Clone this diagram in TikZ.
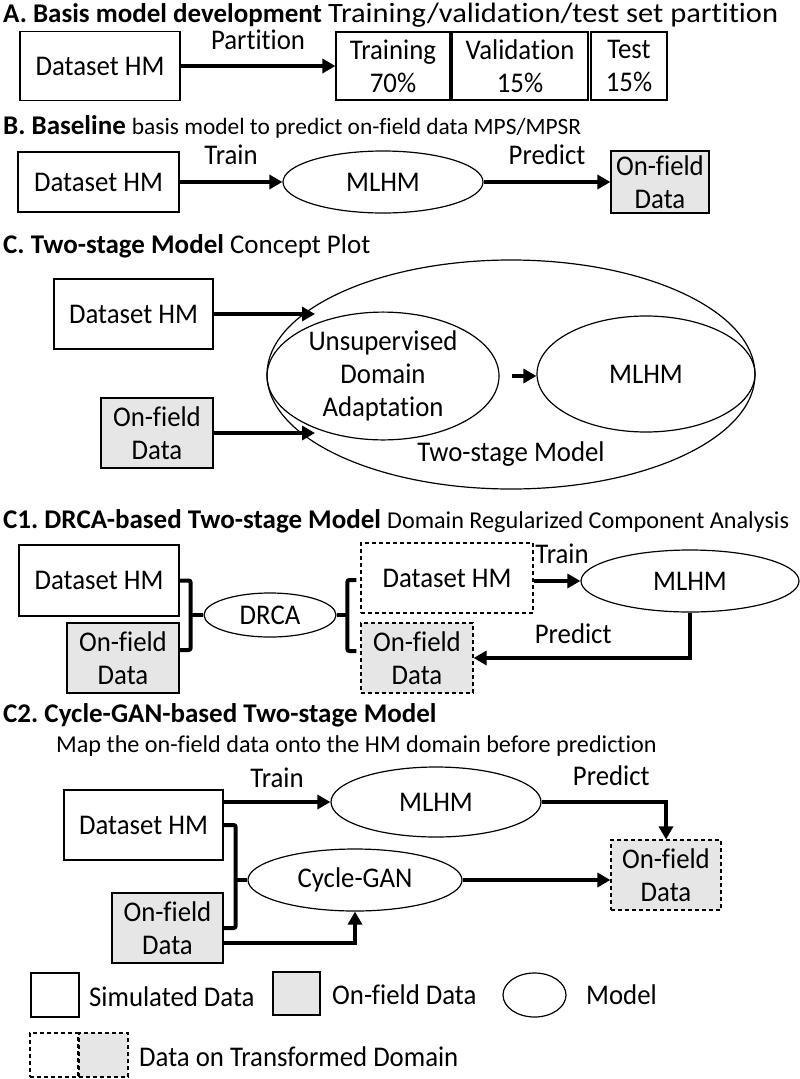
\documentclass[tikz,border=0pt]{standalone}
\usepackage{fontspec}
\setmainfont{Carlito}[Ligatures=CommonOff]
\newfontfamily\boxfam{Carlito}[FakeStretch=0.94, Ligatures=CommonOff]
\newfontfamily\widefam{Carlito}[FakeStretch=1.09, Ligatures=CommonOff]
\usetikzlibrary{arrows.meta,shapes.geometric,calc}
\definecolor{fieldgray}{RGB}{230,230,230}
\newcommand{\boxfont}{\boxfam\fontsize{28.5}{33}\selectfont}
\newcommand{\titlefont}{\fontsize{27}{30}\selectfont\bfseries}
\newcommand{\subfont}[1]{\fontsize{#1}{28}\selectfont\mdseries}
\frenchspacing
\begin{document}
\begin{tikzpicture}[x=1pt,y=-1pt,
  databox/.style={draw, line width=1.2pt, inner sep=0pt, align=center, font=\boxfont},
  fieldbox/.style={databox, fill=fieldgray},
  transbox/.style={databox, dash pattern=on 4pt off 3pt},
  transfield/.style={transbox, fill=fieldgray},
  model/.style={ellipse, draw, line width=1.2pt, inner sep=0pt, align=center, font=\boxfont},
  arr/.style={line width=4pt, -{Triangle[length=13pt,width=14pt]}},
  brk/.style={line width=4pt, rounded corners=2pt},
  lab/.style={font=\boxfont, inner sep=0pt},
  ttl/.style={anchor=base west, inner sep=0pt}
]
\useasboundingbox (0,0) rectangle (800,1079);

% ---------- A ----------
\node[ttl] (tA) at (3,22) {\titlefont A. Basis model development {\widefam\subfont{28}Training/validation/test set partition}};
\node[databox, minimum width=160pt, minimum height=69pt] (dsA) at (100,66) {Dataset HM};
\node[databox, minimum width=114pt, minimum height=68pt] (trA) at (393,66) {Training\\70\%};
\node[databox, minimum width=136pt, minimum height=68pt] (vaA) at (520,66) {Validation\\15\%};
\node[databox, minimum width=76pt, minimum height=68pt] (teA) at (629,66) {Test\\15\%};
\draw[arr] (dsA.east) -- node[lab, above=14pt] {Partition} (trA.west);

% ---------- B ----------
\node[ttl] (tB) at (3,134) {\titlefont B. Baseline \subfont{23.4}basis model to predict on-field data MPS/MPSR};
\node[databox, minimum width=161pt, minimum height=60pt] (dsB) at (98.5,182) {Dataset HM};
\node[model, minimum width=200pt, minimum height=62pt] (mlhmB) at (383,182) {MLHM};
\node[fieldbox, minimum width=98pt, minimum height=62pt] (ofB) at (660,182) {On-field\\Data};
\draw[arr] (dsB.east) -- node[lab, above=15pt] {Train} (mlhmB.west);
\draw[arr] (mlhmB.east) -- node[lab, above=15pt] {Predict} (ofB.west);

% ---------- C ----------
\node[ttl] (tC) at (3,253) {\titlefont C. Two-stage Model \subfont{27}Concept Plot};
\node[databox, minimum width=159pt, minimum height=70pt] (dsC) at (133.5,314) {Dataset HM};
\node[fieldbox, minimum width=112pt, minimum height=70pt] (ofC) at (157,433) {On-field\\Data};
\node[model, minimum width=488pt, minimum height=229pt] (big) at (511,374.5) {};
\node[model, minimum width=232pt, minimum height=120pt] (uda) at (383,376) {Unsupervised\\Domain\\Adaptation};
\node[model, minimum width=218pt, minimum height=116pt] (mlhmC) at (646,374) {MLHM};
\node[lab] (tsm) at ($(big.south)+(0,-36)$) {Two-stage Model};
\coordinate (tipC) at (315,0);
\draw[arr] (dsC.east) -- (dsC.east -| tipC);
\draw[arr] (ofC.east) -- (ofC.east -| tipC);
\draw[arr] ($(uda.east)+(12,0)$) -- (uda.east -| mlhmC.west);

% ---------- C1 ----------
\node[ttl] (tC1) at (3,528) {\titlefont C1. DRCA-based Two-stage Model \subfont{24.2}Domain Regularized Component Analysis};
\node[databox, minimum width=160pt, minimum height=71pt] (dsC1) at (99,580.5) {Dataset HM};
\node[fieldbox, minimum width=112pt, minimum height=70pt] (ofC1) at (123,658) {On-field\\Data};
\node[model, minimum width=132pt, minimum height=44pt] (drca) at (270,615) {DRCA};
\node[transbox, minimum width=172pt, minimum height=70pt] (ddsC1) at (447,578) {Dataset HM};
\node[transfield, minimum width=112pt, minimum height=70pt] (dofC1) at (417,658) {On-field\\Data};
\node[model, minimum width=218pt, minimum height=62pt] (mlhmC1) at (690,581) {MLHM};
\draw[brk] (dsC1.east) -- ++(11,0) |- ($(ofC1.east)+(0,-8)$);
\draw[brk] (drca.west) -- ++(-14,0);
\draw[brk] (drca.east) -- ++(12,0);
\draw[brk] ($(ddsC1.west)+(-4,2)$) -- ++(-9,0) |- ($(dofC1.west)+(-4,-7)$);
\draw[arr] (ddsC1.east |- mlhmC1.west) -- node[lab, above=15pt, xshift=5pt] {Train} (mlhmC1.west);
\draw[arr] (mlhmC1.south) |- node[lab, pos=0.77, above=12pt] {Predict} (dofC1.east);

% ---------- C2 ----------
\node[ttl] (tC2) at (3,722) {\titlefont C2. Cycle-GAN-based Two-stage Model};
\node[ttl] (sC2) at (56,752) {\subfont{24.2}Map the on-field data onto the HM domain before prediction};
\node[databox, minimum width=159pt, minimum height=70pt] (dsC2) at (143.5,825) {Dataset HM};
\node[fieldbox, minimum width=111pt, minimum height=70pt] (ofC2) at (167.5,928) {On-field\\Data};
\node[model, minimum width=210pt, minimum height=70pt] (mlhmC2) at (436,802) {MLHM};
\node[model, minimum width=214pt, minimum height=62pt] (cyc) at (355,880) {Cycle-GAN};
\node[transfield, minimum width=110pt, minimum height=70pt] (dofC2) at (666,875) {On-field\\Data};
\draw[arr] (mlhmC2.west -| dsC2.east) -- node[lab, above=12pt] {Train} (mlhmC2.west);
\draw[arr] (mlhmC2.east) -| node[lab, pos=0.28, above=14pt] {Predict} (dofC2.north);
\draw[brk] (dsC2.east) -- ++(12,0) |- (ofC2.east);
\draw[brk] (cyc.west) -- ++(-13,0);
\draw[arr] (cyc.east) -- (cyc.east -| dofC2.west);
\draw[arr] ($(ofC2.east)+(0,15)$) -| (cyc.south);

% ---------- Legend ----------
\node[databox, minimum width=48pt, minimum height=44pt] (lg1) at (55,995) {};
\node[lab, anchor=west] (lt1) at (89,997) {Simulated Data};
\node[fieldbox, minimum width=47pt, minimum height=43pt] (lg2) at (296.5,993.5) {};
\node[lab, anchor=west] (lt2) at (332,995) {On-field Data};
\node[model, minimum width=63pt, minimum height=44pt] (lg3) at (534.5,995) {};
\node[lab, anchor=west] (lt3) at (586,995) {Model};
\node[transbox, minimum width=48pt, minimum height=44pt] (lg4) at (54,1055) {};
\node[transfield, minimum width=49pt, minimum height=44pt] (lg5) at (103.5,1055) {};
\node[lab, anchor=west] (lt4) at (139,1057) {Data on Transformed Domain};
\end{tikzpicture}
\end{document}
